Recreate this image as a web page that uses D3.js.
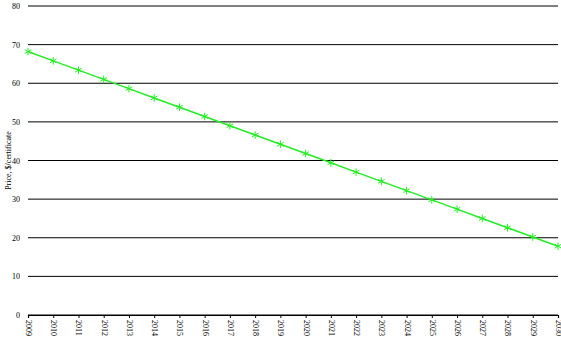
<!DOCTYPE html>
<html>
<head>
<meta charset="utf-8">
<script src="https://cdn.jsdelivr.net/npm/d3@7"></script>
<style>
  body { margin: 0; background: #fff; }
  svg text { font-family: "Liberation Serif", "DejaVu Serif", serif; }
</style>
</head>
<body>
<div id="chart"></div>
<script>
var years = [2009, 2010, 2011, 2012, 2013, 2014, 2015, 2016, 2017, 2018, 2019,
             2020, 2021, 2022, 2023, 2024, 2025, 2026, 2027, 2028, 2029, 2030];
var prices = [68.2, 65.8, 63.4, 61.0, 58.6, 56.2, 53.8, 51.4, 49.0, 46.6, 44.2,
              41.8, 39.4, 37.0, 34.6, 32.2, 29.8, 27.4, 25.0, 22.6, 20.2, 17.8];
var yTicks = [0, 10, 20, 30, 40, 50, 60, 70, 80];
var yLabel = "Price, $/certificate";

var width = 561, height = 341;
var margin = { top: 6, right: 3, bottom: 26, left: 28 };

var svg = d3.select("#chart").append("svg")
  .attr("width", width)
  .attr("height", height);

var x = d3.scaleLinear()
  .domain([years[0], years[years.length - 1]])
  .range([margin.left, width - margin.right]);

var y = d3.scaleLinear()
  .domain([0, 80])
  .range([height - margin.bottom, margin.top]);

// horizontal grid lines
svg.append("g")
  .selectAll("line")
  .data(yTicks)
  .enter().append("line")
    .attr("x1", margin.left)
    .attr("x2", width - margin.right)
    .attr("y1", function(d) { return y(d); })
    .attr("y2", function(d) { return y(d); })
    .attr("stroke", "#000")
    .attr("stroke-width", 1);

// y axis labels
var yAxis = svg.append("g")
  .attr("transform", "translate(" + margin.left + ",0)")
  .call(d3.axisLeft(y).tickValues(yTicks).tickSize(0).tickPadding(8));
yAxis.select(".domain").remove();
yAxis.selectAll("text").attr("font-size", 8).attr("font-family", "Liberation Serif, serif");

// x axis
var xAxis = svg.append("g")
  .attr("transform", "translate(0," + y(0) + ")")
  .call(d3.axisBottom(x).tickValues(years).tickFormat(d3.format("d")).tickSize(3));
xAxis.select(".domain").attr("stroke", "#000").attr("stroke-width", 1.2);
xAxis.selectAll("text")
  .attr("font-size", 8)
  .attr("font-family", "Liberation Serif, serif")
  .attr("transform", "rotate(90)")
  .attr("text-anchor", "start")
  .attr("x", 5)
  .attr("y", 0)
  .attr("dy", "0.32em");

// y axis title
svg.append("text")
  .attr("transform", "translate(8," + (y(40)) + ") rotate(-90)")
  .attr("text-anchor", "middle")
  .attr("font-size", 8)
  .attr("dy", "0.32em")
  .text(yLabel);

// line
var data = years.map(function(d, i) { return { year: d, price: prices[i] }; });
var line = d3.line()
  .x(function(d) { return x(d.year); })
  .y(function(d) { return y(d.price); });

svg.append("path")
  .datum(data)
  .attr("fill", "none")
  .attr("stroke", "#22ee22")
  .attr("stroke-width", 1.5)
  .attr("d", line);

// asterisk markers
var star = d3.symbol().type(d3.symbolAsterisk).size(40);
svg.append("g")
  .selectAll("path")
  .data(data)
  .enter().append("path")
    .attr("transform", function(d) { return "translate(" + x(d.year) + "," + y(d.price) + ")"; })
    .attr("d", star)
    .attr("fill", "none")
    .attr("stroke", "#22ee22")
    .attr("stroke-width", 1);
</script>
</body>
</html>
